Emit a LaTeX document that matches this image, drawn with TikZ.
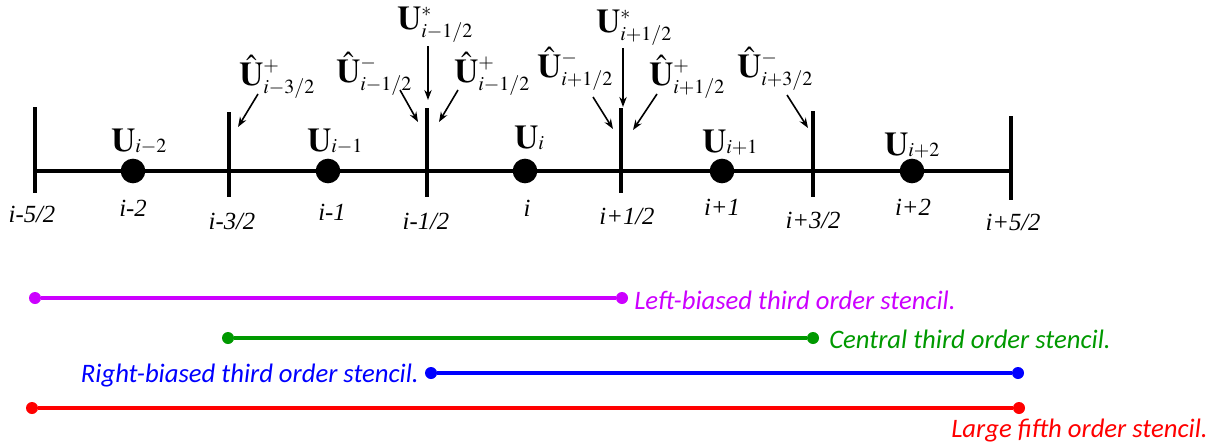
\documentclass[tikz,border=0pt]{standalone}
\usepackage{mathptmx}
\usepackage{fontspec}
\setmainfont{Liberation Serif}
\newfontfamily\stencilfont{Carlito}
\usetikzlibrary{arrows.meta}
\DeclareMathSizes{25}{25}{15}{11}
\newcommand{\cellsub}[1]{\raisebox{3pt}{$\scriptstyle #1$}}

\definecolor{stLeft}{RGB}{204,0,255}
\definecolor{stCentral}{RGB}{0,153,0}
\definecolor{stRight}{RGB}{0,0,255}
\definecolor{stLarge}{RGB}{255,0,0}

\tikzset{
  grid line/.style={line width=3.4pt},
  face tick/.style={line width=3.2pt},
  cell dot/.style={circle, fill=black, inner sep=0pt, minimum size=18.5pt},
  idx label/.style={inner sep=0pt, font=\fontsize{18.5}{22}\selectfont\itshape},
  val label/.style={inner sep=0pt, anchor=base west, font=\fontsize{25}{30}\selectfont},
  ptr/.style={-{Stealth[length=7.5pt,width=5.5pt]}, line width=1.2pt},
  st line/.style={line width=3.5pt},
  st dot/.style={circle, inner sep=0pt, minimum size=9pt},
  st label/.style={inner sep=0pt, font=\stencilfont\itshape\fontsize{20}{24}\selectfont}
}

\begin{document}
\begin{tikzpicture}[x=0.75pt, y=-0.75pt]
\useasboundingbox (0,0) rectangle (1220,446);

% --- Grid: faces i-5/2 ... i+5/2 ---
\coordinate (fm52) at (35,171);
\coordinate (fp52) at (1011,171);
\draw[grid line] (fm52) -- (fp52);

\coordinate (fm52_top) at (35,107);   \coordinate (fm52_bot) at (35,193);
\coordinate (fm32_top) at (229,112);  \coordinate (fm32_bot) at (229,197);
\coordinate (fm12_top) at (427,108);  \coordinate (fm12_bot) at (427,197);
\coordinate (fp12_top) at (621,108);  \coordinate (fp12_bot) at (621,193);
\coordinate (fp32_top) at (813,111);  \coordinate (fp32_bot) at (813,197);
\coordinate (fp52_top) at (1011,116); \coordinate (fp52_bot) at (1011,200);

\draw[face tick] (fm52_top) -- (fm52_bot);
\draw[face tick] (fm32_top) -- (fm32_bot);
\draw[face tick] (fm12_top) -- (fm12_bot);
\draw[face tick] (fp12_top) -- (fp12_bot);
\draw[face tick] (fp32_top) -- (fp32_bot);
\draw[face tick] (fp52_top) -- (fp52_bot);

\node[idx label] (lfm52) at (32,214) {i-5/2};
\node[idx label] (lfm32) at (232,221) {i-3/2};
\node[idx label] (lfm12) at (426,221) {i-1/2};
\node[idx label] (lfp12) at (627,216) {i+1/2};
\node[idx label] (lfp32) at (813,220) {i+3/2};
\node[idx label] (lfp52) at (1013,222) {i+5/2};

% --- Cell centres ---
\node[cell dot] (cm2) at (133,171) {};
\node[cell dot] (cm1) at (328,171) {};
\node[cell dot] (c0)  at (525,171) {};
\node[cell dot] (cp1) at (722,171) {};
\node[cell dot] (cp2) at (912,171) {};

\node[idx label] (lcm2) at (133,208) {i-2};
\node[idx label] (lcm1) at (332,212) {i-1};
\node[idx label] (lc0)  at (527,208) {i};
\node[idx label] (lcp1) at (722,207) {i+1};
\node[idx label] (lcp2) at (913,207) {i+2};

\node[val label] (ucm2) at (111,151) {$\mathbf{U}_{\cellsub{i-2}}$};
\node[val label] (ucm1) at (307,151) {$\mathbf{U}_{\cellsub{i-1}}$};
\node[val label] (uc0)  at (514,148) {$\mathbf{U}_{\cellsub{i}}$};
\node[val label] (ucp1) at (702,152) {$\mathbf{U}_{\cellsub{i+1}}$};
\node[val label] (ucp2) at (884,155) {$\mathbf{U}_{\cellsub{i+2}}$};

% --- Reconstructed states at the faces ---
\node[val label] (uhp_m32) at (239,85) {$\hat{\mathbf{U}}^{+}_{i-3/2}$};
\coordinate (a1_s) at (258,94);  \coordinate (a1_e) at (238,127);
\draw[ptr] (a1_s) -- (a1_e);

\node[val label] (uhm_m12) at (336,82) {$\hat{\mathbf{U}}^{-}_{i-1/2}$};
\coordinate (a2_s) at (400,90);  \coordinate (a2_e) at (418,122);
\draw[ptr] (a2_s) -- (a2_e);

\node[val label] (us_m12) at (397,29) {$\mathbf{U}^{*}_{i-1/2}$};
\coordinate (a3_s) at (428,46);  \coordinate (a3_e) at (428,100);
\draw[ptr] (a3_s) -- (a3_e);

\node[val label] (uhp_m12) at (454,82) {$\hat{\mathbf{U}}^{+}_{i-1/2}$};
\coordinate (a4_s) at (458,90);  \coordinate (a4_e) at (439,122);
\draw[ptr] (a4_s) -- (a4_e);

\node[val label] (uhm_p12) at (537,77) {$\hat{\mathbf{U}}^{-}_{i+1/2}$};
\coordinate (a5_s) at (593,97);  \coordinate (a5_e) at (613,129);
\draw[ptr] (a5_s) -- (a5_e);

\node[val label] (us_p12) at (596,32) {$\mathbf{U}^{*}_{i+1/2}$};
\coordinate (a6_s) at (623,48);  \coordinate (a6_e) at (623,107);
\draw[ptr] (a6_s) -- (a6_e);

\node[val label] (uhp_p12) at (649,85) {$\hat{\mathbf{U}}^{+}_{i+1/2}$};
\coordinate (a7_s) at (657,94);  \coordinate (a7_e) at (633,130);
\draw[ptr] (a7_s) -- (a7_e);

\node[val label] (uhm_p32) at (737,77) {$\hat{\mathbf{U}}^{-}_{i+3/2}$};
\coordinate (a8_s) at (787,95);  \coordinate (a8_e) at (808,128);
\draw[ptr] (a8_s) -- (a8_e);

% --- Stencils ---
\node[st dot, fill=stLeft] (sl_a) at (35,298) {};
\node[st dot, fill=stLeft] (sl_b) at (622,298) {};
\draw[st line, stLeft] (sl_a) -- (sl_b);
\node[st label, text=stLeft, anchor=base west] (sl_txt) at (634,309) {Left-biased third order stencil.};

\node[st dot, fill=stCentral] (sc_a) at (228,338) {};
\node[st dot, fill=stCentral] (sc_b) at (813,338) {};
\draw[st line, stCentral] (sc_a) -- (sc_b);
\node[st label, text=stCentral, anchor=base west] (sc_txt) at (829,348) {Central third order stencil.};

\node[st dot, fill=stRight] (sr_a) at (431,373) {};
\node[st dot, fill=stRight] (sr_b) at (1018,373) {};
\draw[st line, stRight] (sr_a) -- (sr_b);
\node[st label, text=stRight, anchor=base east] (sr_txt) at (419,382) {Right-biased third order stencil.};

\node[st dot, fill=stLarge] (sf_a) at (32,408) {};
\node[st dot, fill=stLarge] (sf_b) at (1019,408) {};
\draw[st line, stLarge] (sf_a) -- (sf_b);
\node[st label, text=stLarge, anchor=base west] (sf_txt) at (951,437) {Large fifth order stencil.};

\end{tikzpicture}
\end{document}
